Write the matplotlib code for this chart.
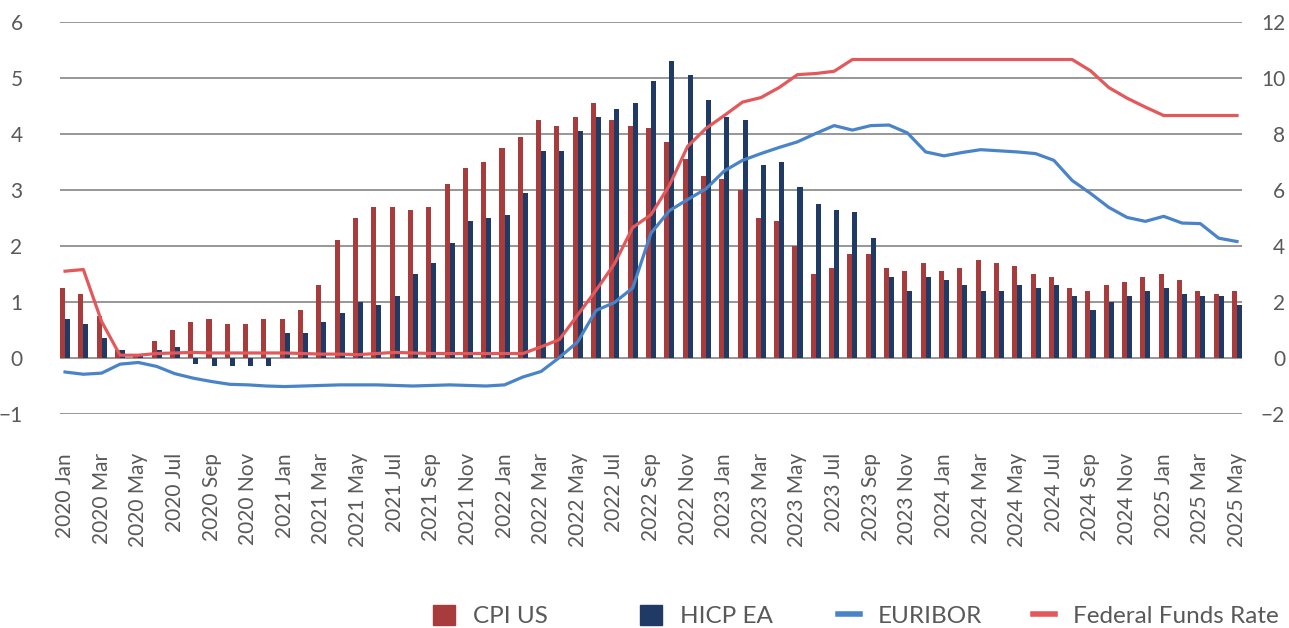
import numpy as np
import matplotlib.pyplot as plt
from matplotlib.patches import Patch
from matplotlib.lines import Line2D

plt.rcParams['font.family'] = ['Lato', 'DejaVu Sans']

# 月度标签 2020 Jan - 2025 May
years = [2020, 2021, 2022, 2023, 2024, 2025]
month_names = ['Jan', 'Feb', 'Mar', 'Apr', 'May', 'Jun',
               'Jul', 'Aug', 'Sep', 'Oct', 'Nov', 'Dec']
months = [f'{y} {m}' for y in years for m in month_names][:65]

# 通胀 (右轴)
cpi_us = [2.5, 2.3, 1.5, 0.3, 0.1, 0.6, 1.0, 1.3, 1.4, 1.2, 1.2, 1.4,
          1.4, 1.7, 2.6, 4.2, 5.0, 5.4, 5.4, 5.3, 5.4, 6.2, 6.8, 7.0,
          7.5, 7.9, 8.5, 8.3, 8.6, 9.1, 8.5, 8.3, 8.2, 7.7, 7.1, 6.5,
          6.4, 6.0, 5.0, 4.9, 4.0, 3.0, 3.2, 3.7, 3.7, 3.2, 3.1, 3.4,
          3.1, 3.2, 3.5, 3.4, 3.3, 3.0, 2.9, 2.5, 2.4, 2.6, 2.7, 2.9,
          3.0, 2.8, 2.4, 2.3, 2.4]
hicp_ea = [1.4, 1.2, 0.7, 0.3, 0.1, 0.3, 0.4, -0.2, -0.3, -0.3, -0.3, -0.3,
           0.9, 0.9, 1.3, 1.6, 2.0, 1.9, 2.2, 3.0, 3.4, 4.1, 4.9, 5.0,
           5.1, 5.9, 7.4, 7.4, 8.1, 8.6, 8.9, 9.1, 9.9, 10.6, 10.1, 9.2,
           8.6, 8.5, 6.9, 7.0, 6.1, 5.5, 5.3, 5.2, 4.3, 2.9, 2.4, 2.9,
           2.8, 2.6, 2.4, 2.4, 2.6, 2.5, 2.6, 2.2, 1.7, 2.0, 2.2, 2.4,
           2.5, 2.3, 2.2, 2.2, 1.9]

# 利率 (左轴)
euribor = [-0.25, -0.29, -0.27, -0.11, -0.08, -0.15, -0.28, -0.36, -0.42, -0.47, -0.48, -0.50,
           -0.51, -0.50, -0.49, -0.48, -0.48, -0.48, -0.49, -0.50, -0.49, -0.48, -0.49, -0.50,
           -0.48, -0.34, -0.24, 0.01, 0.29, 0.85, 0.99, 1.25, 2.23, 2.63, 2.83, 3.02,
           3.34, 3.53, 3.65, 3.76, 3.86, 4.01, 4.15, 4.07, 4.15, 4.16, 4.02, 3.68,
           3.61, 3.67, 3.72, 3.70, 3.68, 3.65, 3.53, 3.17, 2.94, 2.69, 2.51, 2.44,
           2.53, 2.41, 2.40, 2.14, 2.08]
fed_funds = [1.55, 1.58, 0.65, 0.05, 0.05, 0.08, 0.09, 0.10, 0.09, 0.09, 0.09, 0.09,
             0.09, 0.08, 0.07, 0.07, 0.06, 0.08, 0.10, 0.09, 0.08, 0.08, 0.08, 0.08,
             0.08, 0.08, 0.20, 0.33, 0.77, 1.21, 1.68, 2.33, 2.56, 3.08, 3.78, 4.10,
             4.33, 4.57, 4.65, 4.83, 5.06, 5.08, 5.12, 5.33, 5.33, 5.33, 5.33, 5.33,
             5.33, 5.33, 5.33, 5.33, 5.33, 5.33, 5.33, 5.33, 5.13, 4.83, 4.64, 4.48,
             4.33, 4.33, 4.33, 4.33, 4.33]

c_cpi = '#A83B3B'
c_hicp = '#1F3A64'
c_eur = '#4A84C8'
c_fed = '#E3585A'
c_text = '#595959'

fig = plt.figure(figsize=(12.89, 6.28), dpi=100)
ax = fig.add_axes([60 / 1289, 1 - 414 / 628, 1182 / 1289, 392 / 628])  # 柱状图，右轴
ax2 = ax.twinx()  # 折线，左轴

x = np.arange(len(months))
w = 0.275
ax.bar(x, cpi_us, width=w, align='edge', color=c_cpi, zorder=2)
ax.bar(x + w, hicp_ea, width=w, align='edge', color=c_hicp, zorder=2)
ax.set_ylim(-2, 12)
ax.set_yticks(range(-2, 13, 2))
ax.yaxis.tick_right()
ax.grid(axis='y', color='#7a7a7a', linewidth=1.1, zorder=0)
ax.set_axisbelow(True)

ax2.plot(x + w, euribor, color=c_eur, linewidth=2.3)
ax2.plot(x + w, fed_funds, color=c_fed, linewidth=2.3)
ax2.set_ylim(-1, 6)
ax2.set_yticks(range(-1, 7))
ax2.yaxis.tick_left()

ax.set_xlim(0, len(months) - 1 + 2 * w)
ax.set_xticks(x[::2] + w)
ax.set_xticklabels(months[::2], rotation=90, fontsize=15, color=c_text)
ax.tick_params(axis='x', length=0, pad=28)
ax.tick_params(axis='y', length=0, pad=31, labelsize=15, labelcolor=c_text)
ax2.tick_params(axis='y', length=0, pad=27, labelsize=15, labelcolor=c_text)
for lab in ax.get_yticklabels():
    lab.set_horizontalalignment('right')

for a in (ax, ax2):
    for s in a.spines.values():
        s.set_visible(False)

# 图例，手动摆放
handles = [
    (Patch(color=c_cpi), 'CPI US', 433),
    (Patch(color=c_hicp), 'HICP EA', 640),
    (Line2D([], [], color=c_eur, linewidth=4), 'EURIBOR', 838),
    (Line2D([], [], color=c_fed, linewidth=4), 'Federal Funds Rate', 1033),
]
for h, name, px in handles:
    fig.legend([h], [name], loc='center left', bbox_to_anchor=(px / 1289, 1 - 616 / 628),
               frameon=False, fontsize=17.5, labelcolor=c_text, handlelength=0.9,
               handleheight=0.9, handletextpad=0.75, borderpad=0, borderaxespad=0)

fig.savefig('out.png', dpi=100)
